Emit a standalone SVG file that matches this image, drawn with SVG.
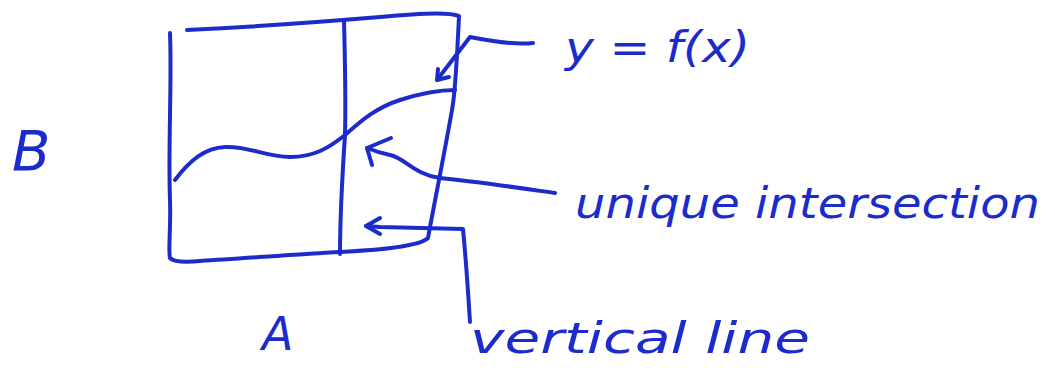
<svg xmlns="http://www.w3.org/2000/svg" width="1055" height="370" viewBox="0 0 1055 370">
<style>
.ink{fill:none;stroke:#1b2bcc;stroke-width:4;stroke-linecap:round;stroke-linejoin:round}
.t{fill:#1b2bcc;font-family:"DejaVu Sans","Liberation Sans",sans-serif;font-style:oblique;font-size:42px}
</style>
<rect width="1055" height="370" fill="#fff"/>
<g id="box">
<path class="ink" d="M170,33 C172,80 168,150 170,200 C171,230 168,250 170,258 C175,263 190,262 200,261 C250,258 300,254 340,252 C380,250 420,246 428,238 C435,200 445,150 452,110 C455,95 457,60 459,16 C450,12 420,13 380,17 C320,22 250,27 187,30"/>
</g>
<g id="vertical">
<path class="ink" d="M344,20 C345,60 346,100 345,135 C342,180 340,220 340,254"/>
</g>
<g id="curve">
<path class="ink" d="M175,180 C190,160 205,148 225,147 C250,146 265,157 290,157 C315,157 330,147 345,135 C360,122 375,108 400,100 C425,92 445,90 455,90"/>
</g>
<g id="connectors">
<path class="ink" d="M533,43 C515,45 495,42 470,37 L437,80"/>
<path class="ink" d="M437,80 L438,69 M437,80 L449,77"/>
<path class="ink" d="M555,193 C520,188 480,182 440,178 C415,175 405,158 390,155 C380,153 372,150 367,148"/>
<path class="ink" d="M367,148 L391,138 M367,148 L372,165"/>
<path class="ink" d="M470,322 C468,290 466,260 463,229 L380,227 L366,226"/>
<path class="ink" d="M366,226 L380,218 M366,226 L380,234"/>
</g>
<g id="labels">
<text class="t" x="565" y="62" textLength="185" lengthAdjust="spacingAndGlyphs">y = f(x)</text>
<text class="t" x="575" y="218" textLength="465" lengthAdjust="spacingAndGlyphs">unique intersection</text>
<text class="t" x="470" y="353" textLength="340" lengthAdjust="spacingAndGlyphs">vertical line</text>
<text class="t" x="262" y="350" style="font-size:46px">A</text>
<text class="t" x="12" y="170" style="font-size:56px">B</text>
</g>
</svg>
